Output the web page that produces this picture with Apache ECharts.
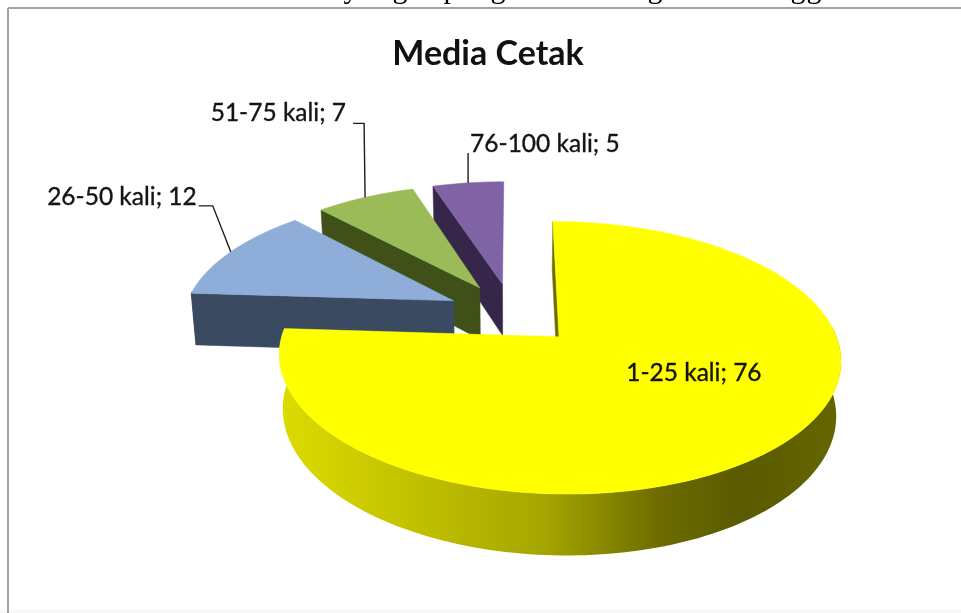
<!DOCTYPE html>
<html>
<head>
<meta charset="utf-8">
<style>html,body{margin:0;padding:0;background:#fff}#chart{width:961px;height:613px}</style>
<script src="https://cdn.jsdelivr.net/npm/echarts@6/dist/echarts.min.js"></script>
</head>
<body>
<div id="chart"></div>
<script>
// Frequency of print-media use, drawn as an exploded 3D pie.
const categories = ['1-25 kali', '26-50 kali', '51-75 kali', '76-100 kali'];
const values = [76, 12, 7, 5];
const chartTitle = 'Media Cetak';
// Descenders of the document line that runs along the top edge.
const runningLineGlyphs = ['y', 'g', 'p', 'g', 'g', 'g', 'g'];

// Face colours for each slice, in category order.
const topFill = ['#ffff00', '#8eadd8', '#9bbb59', '#7f63a4'];
const sideFill = ['#6e6e00', '#3a4a60', '#3f5118', '#35264a'];

// Perspective camera: ground-plane units map to pixels.
const view = { x0: 512.5, y0: 313.7, rx: 270, ry: 126, depth: 53.5, persp: 0.15, taper: 0.015 };
const explode = 0.245;

// Leader elbows and label anchors, relative to the slice's outer midpoint.
const labelLayout = [
  { leader: null, dx: -85, dy: -73, align: 'center' },
  { leader: [[-18, -46], [-32, -46]], dx: -34, dy: -55, align: 'right' },
  { leader: [[-1, -74], [-12, -74]], dx: -19, dy: -84, align: 'right' },
  { leader: [[0, -30]], dx: 2, dy: -39, align: 'left' }
];

const total = values.reduce((a, b) => a + b, 0);
let running = 0;
const slices = values.map((v, i) => {
  const a0 = running / total * Math.PI * 2;
  running += v;
  const a1 = running / total * Math.PI * 2;
  const mid = (a0 + a1) / 2;
  return { i, a0, a1, mid, ox: Math.sin(mid) * explode, oy: -Math.cos(mid) * explode };
});

function project(u, v, z) {
  const w = (1 - view.persp * v) * (1 + view.taper * z);
  return [view.x0 + view.rx * u / w, view.y0 + (view.ry * v + view.depth * z) / w];
}
const rimPoint = (s, a, z) => project(s.ox + Math.sin(a), s.oy - Math.cos(a), z);
const apexPoint = (s, z) => project(s.ox, s.oy, z);

function arc(s, from, to, z) {
  const steps = Math.max(8, Math.ceil((to - from) * 40));
  const pts = [];
  for (let k = 0; k <= steps; k++) pts.push(rimPoint(s, from + (to - from) * k / steps, z));
  return pts;
}
const poly = (points, fill) => ({
  type: 'polygon',
  shape: { points },
  style: { fill, stroke: typeof fill === 'string' ? fill : null, lineWidth: 0.5 }
});

function wallFill(s) {
  if (s.i !== 0) return sideFill[s.i];
  return new echarts.graphic.LinearGradient(0, 0, 1, 0, [
    { offset: 0, color: '#dcdc00' },
    { offset: 0.25, color: '#c0c000' },
    { offset: 0.47, color: '#a5a500' },
    { offset: 0.68, color: '#6c6c00' },
    { offset: 0.82, color: '#5a5a00' },
    { offset: 1, color: '#666600' }
  ]);
}

// Only the part of the outer wall turned towards the camera is painted.
function wallPolygon(s) {
  const from = Math.max(s.a0, Math.acos(0.08));
  const to = Math.min(s.a1, Math.PI * 2 - Math.acos(0.08));
  if (to <= from) return null;
  return poly(arc(s, from, to, 0).concat(arc(s, from, to, 1).reverse()), wallFill(s));
}

function renderSlice(params) {
  const s = slices[categories.length - 1 - params.dataIndex];
  const layout = labelLayout[s.i];
  const apex = apexPoint(s, 0);
  const apexLow = apexPoint(s, 1);
  const children = [];
  const wall = wallPolygon(s);
  if (wall) children.push(wall);
  // The cut face at the slice's starting angle is the one facing the viewer.
  if (-Math.sin(s.a0) >= -1e-6) {
    children.push(poly([apex, apexLow, rimPoint(s, s.a0, 1), rimPoint(s, s.a0, 0)], sideFill[s.i]));
  }
  children.push(poly([apex].concat(arc(s, s.a0, s.a1, 0)), topFill[s.i]));
  const anchor = rimPoint(s, s.mid, 0);
  if (layout.leader) {
    children.push({
      type: 'polyline',
      shape: { points: [anchor].concat(layout.leader.map(p => [anchor[0] + p[0], anchor[1] + p[1]])) },
      style: { stroke: '#1c1c1c', lineWidth: 1.4, fill: null }
    });
  }
  children.push({
    type: 'text',
    style: {
      x: anchor[0] + layout.dx,
      y: anchor[1] + layout.dy,
      text: categories[s.i] + '; ' + values[s.i],
      font: '24.5px Lato',
      fill: '#141414',
      stroke: '#141414',
      lineWidth: 0.35,
      align: layout.align,
      verticalAlign: 'middle'
    }
  });
  return { type: 'group', children };
}

const glyphColumns = [351, 400, 451, 498, 655, 798, 814];

const chart = echarts.init(document.getElementById('chart'), null, { renderer: 'canvas' });
chart.setOption({
  animation: false,
  backgroundColor: '#ffffff',
  title: {
    text: chartTitle,
    left: 483,
    top: 32,
    textAlign: 'center',
    textStyle: { fontFamily: 'Lato', fontWeight: 700, fontSize: 34, color: '#111111' }
  },
  graphic: [
    { type: 'rect', silent: true, z: -2, shape: { x: 0, y: 609, width: 961, height: 4 }, style: { fill: '#f9f9f9' } },
    { type: 'line', silent: true, shape: { x1: 8, y1: 8, x2: 961, y2: 8 }, style: { stroke: '#a2a2a2', lineWidth: 2 } },
    { type: 'line', silent: true, shape: { x1: 8, y1: 8, x2: 8, y2: 613 }, style: { stroke: '#a2a2a2', lineWidth: 2 } }
  ].concat(runningLineGlyphs.map((g, i) => ({
    type: 'text',
    silent: true,
    style: {
      x: glyphColumns[i], y: 5, text: g,
      font: '30px "Liberation Serif"', fill: '#000000',
      align: 'center', verticalAlign: 'bottom'
    }
  }))),
  series: [{
    type: 'custom',
    coordinateSystem: 'none',
    silent: true,
    renderItem: renderSlice,
    data: categories.map((c, i) => ({ name: c, value: values[i] })).reverse()
  }]
});
</script>
</body>
</html>
